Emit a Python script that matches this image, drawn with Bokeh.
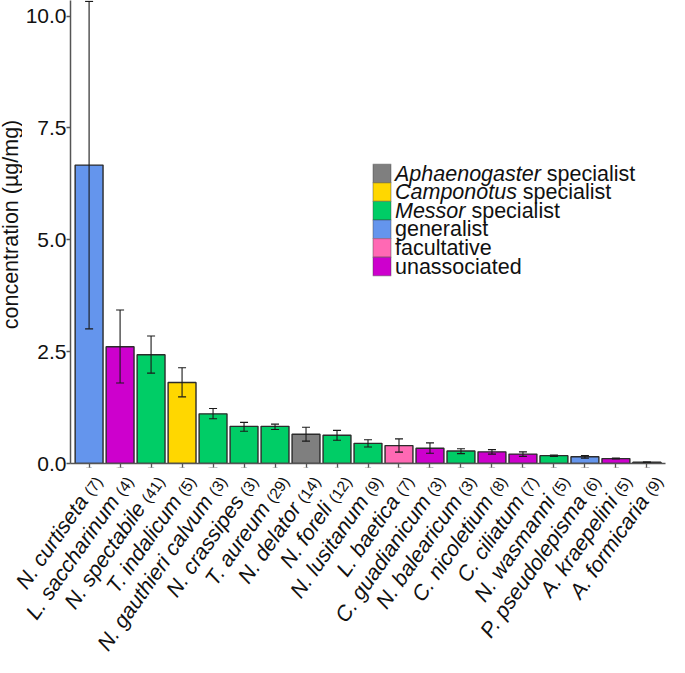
import math
from bokeh.plotting import figure
from bokeh.layouts import column, row
from bokeh.core.properties import value
from bokeh.models import (ColumnDataSource, FactorRange, Range1d, Whisker, TeeHead,
                          Label, LabelSet, BoxAnnotation, PrintfTickFormatter, FixedTicker)
from bokeh.embed import file_html
from bokeh.resources import INLINE

# ---------------- data ----------------
species = ["N. curtiseta", "L. saccharinum", "N. spectabile", "T. indalicum",
           "N. gauthieri calvum", "N. crassipes", "T. aureum", "N. delator",
           "N. foreli", "N. lusitanum", "L. baetica", "C. guadianicum",
           "N. balearicum", "C. nicoletium", "C. ciliatum", "N. wasmanni",
           "P. pseudolepisma", "A. kraepelini", "A. formicaria"]
counts = [7, 4, 41, 5, 3, 3, 29, 14, 12, 9, 7, 3, 3, 8, 7, 5, 6, 5, 9]
means = [6.67, 2.61, 2.43, 1.81, 1.11, 0.83, 0.83, 0.655, 0.63, 0.45, 0.40,
         0.34, 0.28, 0.26, 0.21, 0.175, 0.15, 0.11, 0.03]
err_upper = [10.33, 3.43, 2.85, 2.14, 1.23, 0.92, 0.88, 0.81, 0.74, 0.53, 0.55,
             0.46, 0.33, 0.31, 0.26, 0.19, 0.18, 0.12, 0.035]
err_lower = [3.01, 1.80, 2.02, 1.49, 1.00, 0.72, 0.76, 0.50, 0.52, 0.37, 0.255,
             0.23, 0.22, 0.21, 0.16, 0.16, 0.12, 0.10, 0.025]
groups = ["generalist", "unassociated", "Messor", "Camponotus", "Messor", "Messor",
          "Messor", "Aphaenogaster", "Messor", "Messor", "facultative", "unassociated",
          "Messor", "unassociated", "unassociated", "Messor", "generalist",
          "unassociated", "generalist"]
legend_keys = ["Aphaenogaster", "Camponotus", "Messor", "generalist", "facultative", "unassociated"]
legend_italic = ["Aphaenogaster", "Camponotus", "Messor", "", "", ""]
legend_plain = ["specialist", "specialist", "specialist", "generalist", "facultative", "unassociated"]
group_colors = {"Aphaenogaster": "#7F7F7F", "Camponotus": "#FFD700", "Messor": "#00CD66",
                "generalist": "#6495ED", "facultative": "#FF69B4", "unassociated": "#CD00CD"}
y_ticks = [0, 2.5, 5, 7.5, 10]
y_title = "concentration (µg/mg)"

# ---------------- helpers ----------------
FONT = "Liberation Sans"
W1000 = {" ": 278, "(": 333, ")": 333, ".": 278, "A": 667, "C": 722, "L": 556, "M": 833,
         "N": 722, "P": 667, "T": 611, "a": 556, "b": 556, "c": 500, "d": 556, "e": 556,
         "f": 278, "g": 556, "h": 556, "i": 222, "j": 222, "k": 500, "l": 222, "m": 833,
         "n": 556, "o": 556, "p": 556, "q": 556, "r": 333, "s": 500, "t": 278, "u": 556,
         "v": 500, "w": 722, "x": 500, "y": 500, "z": 500}


def text_width(t, px):
    return sum(W1000.get(ch, 556) for ch in t) / 1000.0 * px


FS = 21.5       # main text size
FS_CT = 15.6    # sample size text
TXT = "#111111"
AX = "#555555"

TOTAL_W, TOTAL_H = 669, 657
TW = 22                 # width of the strip holding the y title
ML = 45                 # left border of main plot (tick labels)
FL = TW + ML            # frame left on the canvas
FR = 4
FRAME_H = 463
MB = 10                 # bottom border of main plot
MH = FRAME_H + MB
LH = TOTAL_H - MH
PAD = 0.1


def bare(fig):
    fig.outline_line_color = None
    fig.grid.visible = False
    return fig


# ---------------- y title strip ----------------
tfig = bare(figure(width=TW, height=MH, x_range=Range1d(0, 1), y_range=Range1d(0, 1),
                   output_backend="svg", toolbar_location=None,
                   x_axis_location=None, y_axis_location=None, min_border=0,
                   min_border_left=0, min_border_right=0, min_border_top=0,
                   min_border_bottom=0))
tfig.add_layout(Label(x=10.0, y=MH - 234, x_units="screen", y_units="screen",
                      text=y_title, angle=math.pi / 2, text_align="center",
                      text_baseline="alphabetic", text_font=FONT,
                      text_font_size="%.1fpx" % FS, text_color=TXT))

# ---------------- main plot ----------------
p = bare(figure(width=TOTAL_W - TW, height=MH,
                x_range=FactorRange(factors=species, range_padding=PAD,
                                    range_padding_units="absolute"),
                y_range=Range1d(0, 10.35),
                output_backend="svg", toolbar_location=None,
                min_border_left=ML, min_border_right=FR, min_border_top=0,
                min_border_bottom=MB))

src = ColumnDataSource(dict(x=species, top=means, upper=err_upper, lower=err_lower,
                            color=[group_colors[g] for g in groups]))
p.vbar(x="x", top="top", bottom=0, width=0.9, source=src, fill_color="color",
       line_color="#2b2b2b", line_width=1.4)

wh = Whisker(base="x", upper="upper", lower="lower", source=src, dimension="height",
             line_color="#1a1a1a", line_width=1.1, level="annotation",
             upper_head=TeeHead(size=8, line_color="#1a1a1a", line_width=1.1),
             lower_head=TeeHead(size=8, line_color="#1a1a1a", line_width=1.1))
p.add_layout(wh)

p.yaxis.ticker = FixedTicker(ticks=y_ticks)
p.yaxis.formatter = PrintfTickFormatter(format="%.1f")
p.yaxis.major_label_text_font = FONT
p.yaxis.major_label_text_font_size = "21px"
p.yaxis.major_label_text_color = TXT
p.yaxis.major_label_standoff = 0
for ax in (p.xaxis, p.yaxis):
    ax.axis_line_color = AX
    ax.axis_line_width = 1.5
    ax.major_tick_line_color = AX
    ax.major_tick_line_width = 1.3
    ax.major_tick_out = 4
    ax.major_tick_in = 0
    ax.minor_tick_line_color = None
# species names are drawn in the strip below (mixed italic / plain text)
p.xaxis.major_label_overrides = {s: "" for s in species}
p.xaxis.major_label_text_font_size = "1px"
p.xaxis.major_label_standoff = 0

# legend (custom, mixed italic)
kx0, kw, ky0, kh = 302.5, 18.0, 299.3, 18.6
tx0 = 324.5
for i, key in enumerate(legend_keys):
    top = ky0 - i * kh
    bot = top - kh
    p.add_layout(BoxAnnotation(left=kx0, right=kx0 + kw, top=top, bottom=bot,
                               left_units="screen", right_units="screen",
                               top_units="screen", bottom_units="screen",
                               fill_color=group_colors[key], fill_alpha=1.0,
                               line_color="#3a3a3a", line_width=1.4, level="overlay"))
    ymid = (top + bot) / 2
    xoff = tx0
    if legend_italic[i]:
        p.add_layout(Label(x=xoff, y=ymid, x_units="screen", y_units="screen",
                           text=legend_italic[i], text_font=FONT, text_font_style="italic",
                           text_font_size="%.1fpx" % FS, text_baseline="middle",
                           text_align="left", text_color=TXT))
        xoff += text_width(legend_italic[i] + " ", FS)
    p.add_layout(Label(x=xoff, y=ymid, x_units="screen", y_units="screen",
                       text=legend_plain[i], text_font=FONT,
                       text_font_size="%.1fpx" % FS, text_baseline="middle",
                       text_align="left", text_color=TXT))

# ---------------- label strip below (aligned with the bars) ----------------
n = len(species)
ppu = (TOTAL_W - FL - FR) / (n + 2 * PAD)
u0 = -PAD - FL / ppu
lab = bare(figure(width=TOTAL_W, height=LH, x_range=Range1d(u0, u0 + TOTAL_W / ppu),
                  y_range=Range1d(-LH, 0), output_backend="svg", toolbar_location=None,
                  x_axis_location=None, y_axis_location=None, min_border=0,
                  min_border_left=0, min_border_right=0, min_border_top=0,
                  min_border_bottom=0))

ang = math.radians(55)
cs, sn = math.cos(ang), math.sin(ang)
bx, by = 17.0, -18.0
ct_texts = ["(%d)" % c for c in counts]
wct = [0.25 * FS + text_width(t, FS_CT) for t in ct_texts]
lab_src = ColumnDataSource(dict(x=[i + 0.5 for i in range(n)], y=[MB] * n, sp=species,
                                ct=ct_texts, sx=[bx - w * cs for w in wct],
                                sy=[by - w * sn for w in wct]))
lab.add_layout(LabelSet(x="x", y="y", text="ct", source=lab_src, x_offset=bx, y_offset=by,
                        angle=ang, text_align="right", text_baseline="alphabetic",
                        text_font=value(FONT), text_font_size=value("%.1fpx" % FS_CT),
                        text_color=TXT))
lab.add_layout(LabelSet(x="x", y="y", text="sp", source=lab_src, x_offset="sx", y_offset="sy",
                        angle=ang, text_align="right", text_baseline="alphabetic",
                        text_font=value(FONT), text_font_style="italic",
                        text_font_size=value("%.1fpx" % FS), text_color=TXT))

layout = column(row(tfig, p, spacing=0), lab, spacing=0)
open("out.html", "w").write(file_html(layout, INLINE))
